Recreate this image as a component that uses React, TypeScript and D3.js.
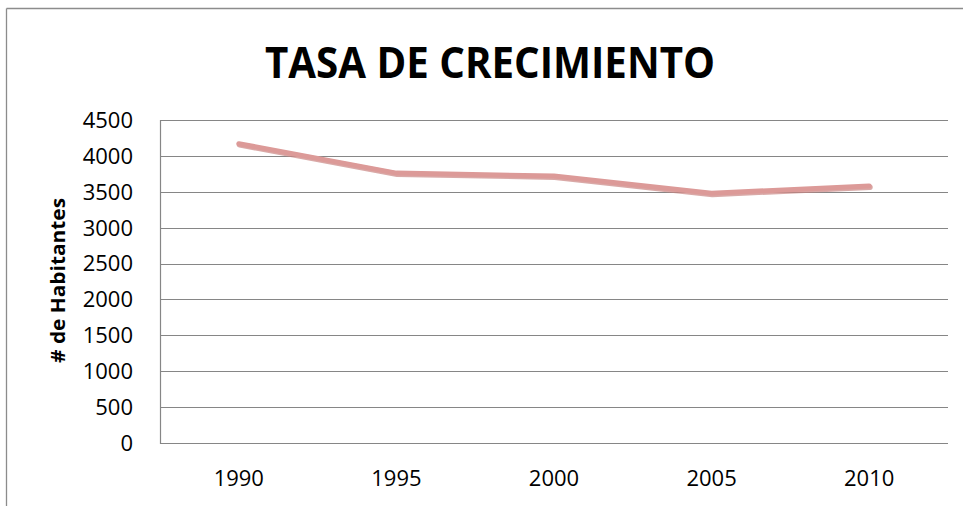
import React from "react";
import * as d3 from "d3";

const years = ["1990", "1995", "2000", "2005", "2010"];
const habitantes = [4170, 3760, 3720, 3480, 3580];
const yTicks = [0, 500, 1000, 1500, 2000, 2500, 3000, 3500, 4000, 4500];
const title = "TASA DE CRECIMIENTO";
const yLabel = "# de Habitantes";

const W = 963;
const H = 506;
const plot = { left: 160, right: 948, top: 120, bottom: 443 };

export default function App() {
  const x = d3.scaleBand<string>().domain(years).range([plot.left, plot.right]);
  const y = d3.scaleLinear().domain([0, 4500]).range([plot.bottom, plot.top]);
  const line = d3
    .line<number>()
    .x((_, i) => (x(years[i]) as number) + x.bandwidth() / 2)
    .y((d) => y(d));
  const path = line(habitantes) || "";
  const font = "'Open Sans', sans-serif";

  return (
    <svg
      width={W}
      height={H}
      style={{ position: "absolute", left: 0, top: 0, background: "#fff" }}
      fontFamily={font}
    >
      <rect x={0} y={0} width={W} height={H} fill="#fff" />
      {/* outer frame */}
      <line x1={6.5} y1={8.5} x2={W} y2={8.5} stroke="#8c8c8c" strokeWidth={1.3} />
      <line x1={6.5} y1={8.5} x2={6.5} y2={H} stroke="#8c8c8c" strokeWidth={1.3} />

      <text
        x={490}
        y={78}
        textAnchor="middle"
        fontSize={43}
        fontWeight="bold"
        fill="#000"
        textLength={450}
        lengthAdjust="spacingAndGlyphs"
      >
        {title}
      </text>

      {/* gridlines */}
      {yTicks.map((t) => (
        <line
          key={t}
          x1={plot.left}
          x2={plot.right}
          y1={Math.round(y(t)) + 0.5}
          y2={Math.round(y(t)) + 0.5}
          stroke="#868686"
          strokeWidth={1.2}
        />
      ))}
      <line
        x1={plot.left + 0.5}
        x2={plot.left + 0.5}
        y1={plot.top}
        y2={plot.bottom + 1}
        stroke="#868686"
        strokeWidth={1.2}
      />

      {/* y tick labels */}
      {yTicks.map((t) => (
        <text
          key={t}
          x={133}
          y={y(t)}
          dy="0.36em"
          textAnchor="end"
          fontSize={22}
          fill="#000"
        >
          {t}
        </text>
      ))}

      {/* x tick labels */}
      {years.map((yr) => (
        <text
          key={yr}
          x={(x(yr) as number) + x.bandwidth() / 2}
          y={478}
          dy="0.36em"
          textAnchor="middle"
          fontSize={22}
          fill="#000"
        >
          {yr}
        </text>
      ))}

      {/* y axis title */}
      <text
        transform={`translate(65, 280.5) rotate(-90)`}
        textAnchor="middle"
        fontSize={20}
        fontWeight="bold"
        fill="#000"
        textLength={165}
        lengthAdjust="spacingAndGlyphs"
      >
        {yLabel}
      </text>

      {/* line with soft shadow */}
      <path
        d={path}
        transform="translate(0.8,1.2)"
        fill="none"
        stroke="#c98482"
        strokeOpacity={0.7}
        strokeWidth={5.5}
        strokeLinecap="round"
        strokeLinejoin="round"
      />
      <path
        d={path}
        fill="none"
        stroke="#dc9a98"
        strokeWidth={5}
        strokeLinecap="round"
        strokeLinejoin="round"
      />
    </svg>
  );
}
